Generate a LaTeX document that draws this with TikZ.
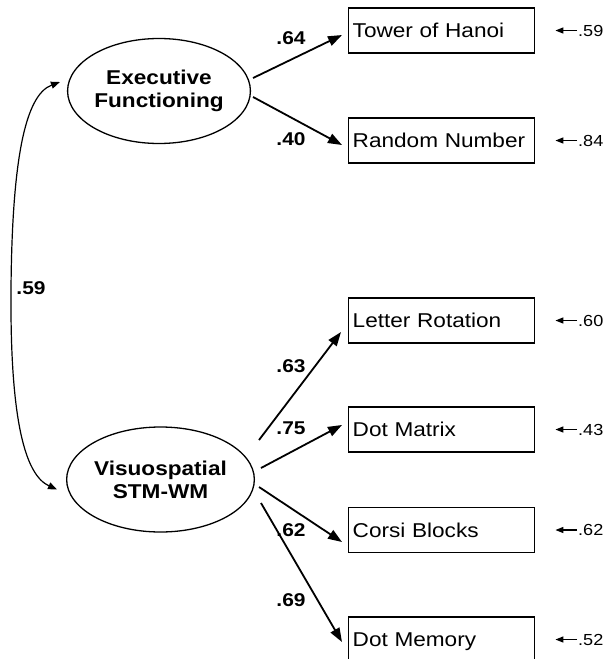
\documentclass[tikz,border=0pt]{standalone}
\usepackage{fontspec}
\setmainfont{Liberation Sans}[FakeStretch=1.13]
\usetikzlibrary{arrows.meta,shapes.geometric}
\begin{document}
\begin{tikzpicture}[x=1pt,y=-1pt,
 latent/.style={ellipse,draw,line width=1.3pt,minimum width=178pt,minimum height=105pt,inner sep=0pt,align=center,font=\fontsize{20}{23}\selectfont\bfseries},
 obs/.style={draw,line width=1.4pt,minimum height=45pt,text width=178pt,inner xsep=4pt,text height=14pt,text depth=0pt,align=left,anchor=west,font=\fontsize{20}{22}\selectfont},
 coef/.style={font=\fontsize{18.5}{20}\selectfont\bfseries,inner sep=0pt},
 errlab/.style={font=\fontsize{16}{18}\selectfont,anchor=west,inner sep=0pt},
 loadarr/.style={-{Triangle[length=14pt,width=10pt]},line width=1.8pt},
 errarr/.style={-{Triangle[length=8pt,width=6pt]},line width=1.2pt,shorten <=1pt},
 covarr/.style={{Triangle[length=9pt,width=7pt]}-{Triangle[length=9pt,width=7pt]},line width=1.2pt}]
\useasboundingbox (0,0) rectangle (612,659);
\clip (0,0) rectangle (612,659);
% latent variables
\node[latent] (ef) at (159,91) {Executive\\Functioning};
\node[latent] (vs) at (160.5,479.5) {Visuospatial\\STM-WM};
% observed variables
\node[obs] (t1) at (348,30.5) {Tower of Hanoi};
\node[obs] (t2) at (348,140.5) {Random Number};
\node[obs] (t3) at (348,320.5) {Letter Rotation};
\node[obs] (t4) at (348,429.5) {Dot Matrix};
\node[obs] (t5) at (348,530) {Corsi Blocks};
\node[obs] (t6) at (348,639.5) {Dot Memory};
% error terms
\node[errlab] (e1) at (578,30.5) {.59};
\node[errlab] (e2) at (578,140.5) {.84};
\node[errlab] (e3) at (578,320.5) {.60};
\node[errlab] (e4) at (578,429.5) {.43};
\node[errlab] (e5) at (578,530) {.62};
\node[errlab] (e6) at (578,639.5) {.52};
\foreach \i in {1,...,6}{
  \draw[errarr] (e\i.west) -- ([xshift=20pt]t\i.east);
}
% loadings
\draw[loadarr] ([shift={(2,-13)}]ef.east) -- ([shift={(-6,4.5)}]t1.west);
\draw[loadarr] ([shift={(2,6)}]ef.east) -- ([shift={(-6,4.5)}]t2.west);
\draw[loadarr] ([shift={(4,-39.5)}]vs.east) -- ([shift={(-7,11.5)}]t3.west);
\draw[loadarr] ([shift={(6,-11.5)}]vs.east) -- ([shift={(-6,-4.5)}]t4.west);
\draw[loadarr] ([shift={(4,7.5)}]vs.east) -- ([shift={(-6,12)}]t5.west);
\draw[loadarr] ([shift={(6,23.5)}]vs.east) -- ([shift={(-6,2.5)}]t6.west);
\node[coef] (c1) at (291,38) {.64};
\node[coef] (c2) at (291,139) {.40};
\node[coef] (c3) at (291,366) {.63};
\node[coef] (c4) at (291,428.5) {.75};
\node[coef] (c5) at (291,530) {.62};
\node[coef] (c6) at (291,600) {.69};
% covariance
\draw[covarr] ([shift={(-7,-9)}]ef.west) .. controls (25,95) and (12,160) .. (11,290) .. controls (10,420) and (25,475) .. ([shift={(-9,10)}]vs.west);
\node[coef] (c0) at (31,288) {.59};
\end{tikzpicture}
\end{document}
